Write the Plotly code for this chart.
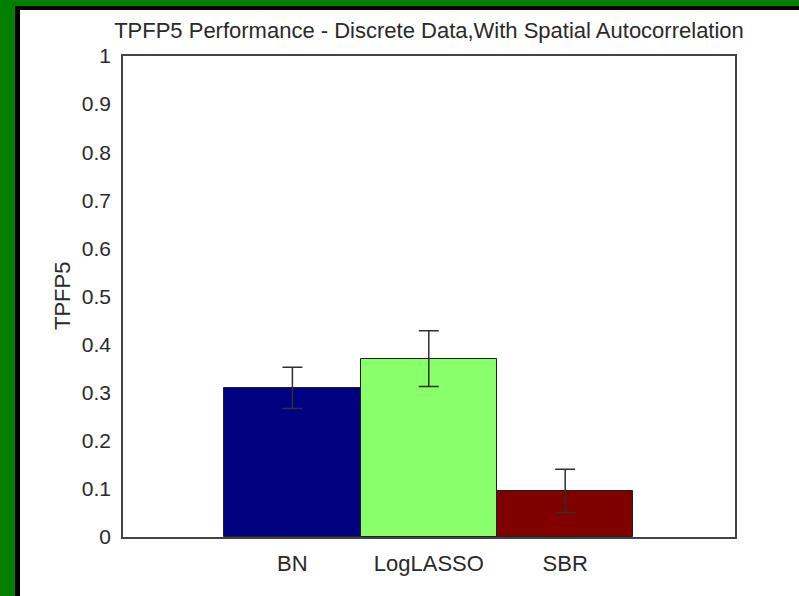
import plotly.graph_objects as go

categories = ["BN", "LogLASSO", "SBR"]
values = [0.310, 0.371, 0.096]
errors = [0.043, 0.058, 0.045]
bar_colors = ["#000080", "#8AFF6C", "#800000"]
y_ticks = [0, 0.1, 0.2, 0.3, 0.4, 0.5, 0.6, 0.7, 0.8, 0.9, 1]
y_tick_text = ["0", "0.1", "0.2", "0.3", "0.4", "0.5", "0.6", "0.7", "0.8", "0.9", "1"]

W, H = 799, 596
L, R, T, B = 123, 735, 56, 537
pw, ph = R - L, B - T

def px_x(p):
    return (p - L) / pw

def px_y(p):
    return (B - p) / ph

FONT = "Liberation Sans, Arial, sans-serif"
TXT = "#2a2a2a"

fig = go.Figure()
fig.add_trace(go.Bar(
    x=categories, y=values,
    marker=dict(color=bar_colors, line=dict(color="#202020", width=1)),
    width=1.0,
    error_y=dict(type="data", array=errors, visible=True,
                 color="#303030", thickness=1.5, width=10),
))

shapes = [
    # green frame (left + top)
    dict(type="rect", xref="paper", yref="paper", x0=px_x(0), x1=px_x(15), y0=px_y(H), y1=px_y(0),
         fillcolor="#007F00", line=dict(width=0), layer="above"),
    dict(type="rect", xref="paper", yref="paper", x0=px_x(0), x1=px_x(W), y0=px_y(6), y1=px_y(0),
         fillcolor="#007F00", line=dict(width=0), layer="above"),
    # black frame
    dict(type="rect", xref="paper", yref="paper", x0=px_x(15), x1=px_x(20), y0=px_y(H), y1=px_y(6),
         fillcolor="#000000", line=dict(width=0), layer="above"),
    dict(type="rect", xref="paper", yref="paper", x0=px_x(15), x1=px_x(W), y0=px_y(10), y1=px_y(6),
         fillcolor="#000000", line=dict(width=0), layer="above"),
]

fig.update_layout(
    width=W, height=H,
    margin=dict(l=L, r=W - R, t=T, b=H - B, pad=0),
    paper_bgcolor="white", plot_bgcolor="white",
    showlegend=False,
    bargap=0,
    font=dict(family=FONT, size=21, color=TXT),
    title=dict(text="TPFP5 Performance - Discrete Data,With Spatial Autocorrelation",
               x=((L + R) / 2) / W, xref="container", xanchor="center",
               y=1 - 30 / H, yref="container", yanchor="middle",
               font=dict(family=FONT, size=22, color=TXT)),
    xaxis=dict(range=[-1.242, 3.245], showgrid=False, zeroline=False,
               showline=True, mirror=True, linecolor="#444444", linewidth=1.5,
               ticks="", ticklabelstandoff=6, tickfont=dict(size=22, color=TXT)),
    yaxis=dict(range=[0, 1], tickvals=y_ticks, ticktext=y_tick_text,
               showgrid=False, zeroline=False,
               showline=True, mirror=True, linecolor="#444444", linewidth=1.5,
               ticks="", ticklabelstandoff=6, tickfont=dict(size=21, color=TXT)),
    shapes=shapes,
    annotations=[dict(text="TPFP5", xref="paper", yref="paper",
                      x=px_x(62), y=px_y(296), textangle=-90,
                      showarrow=False, xanchor="center", yanchor="middle",
                      font=dict(family=FONT, size=22, color=TXT))],
)

fig.write_html("out.html")
